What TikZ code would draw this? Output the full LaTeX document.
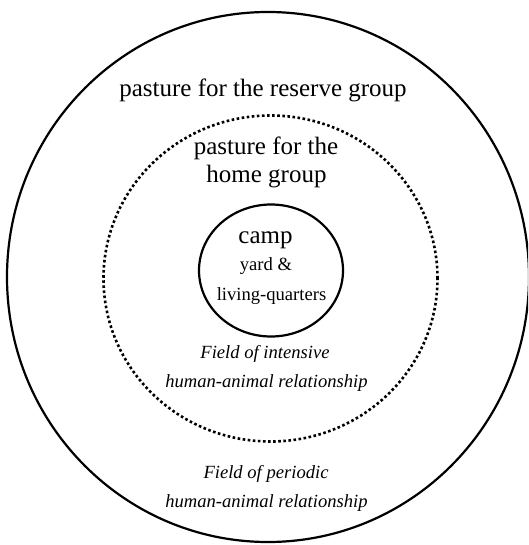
\documentclass[tikz,border=0pt]{standalone}
\usepackage{fontspec}
\setmainfont{Liberation Serif}
\begin{document}
\begin{tikzpicture}[x=1pt,y=-1pt,
  big/.style={font=\fontsize{25}{28}\selectfont, inner sep=0pt, anchor=base},
  small/.style={font=\fontsize{18.6}{29}\selectfont, inner sep=0pt, anchor=base},
  fieldtxt/.style={font=\fontsize{18.6}{29}\selectfont\itshape, inner sep=0pt, anchor=base},
  ring/.style={line width=2.2pt},
  dotring/.style={line width=2.6pt, dash pattern=on 2.6pt off 2.5pt}]
\useasboundingbox (0,0) rectangle (528,545);
\clip (0,0) rectangle (528,545);
\draw[ring] (268,277) ellipse [x radius=261pt, y radius=265pt];
\draw[dotring] (270.5,278.5) ellipse [x radius=167pt, y radius=163pt];
\draw[ring] (271,270.5) ellipse [x radius=72pt, y radius=66pt];
\node[big] (reserve) at (263,97) {pasture for the reserve group};
\node[big] (home1) at (266,155) {pasture for the};
\node[big] (home2) at (266.5,183) {home group};
\node[big] (camp) at (265.5,243) {camp};
\node[small] (yard) at (266,270) {yard \&};
\node[small] (living) at (271.5,300) {living-quarters};
\node[fieldtxt] (int1) at (265,358) {Field of intensive};
\node[fieldtxt] (int2) at (266.5,387) {human-animal relationship};
\node[fieldtxt] (per1) at (266,478) {Field of periodic};
\node[fieldtxt] (per2) at (266.5,507) {human-animal relationship};
\end{tikzpicture}
\end{document}
